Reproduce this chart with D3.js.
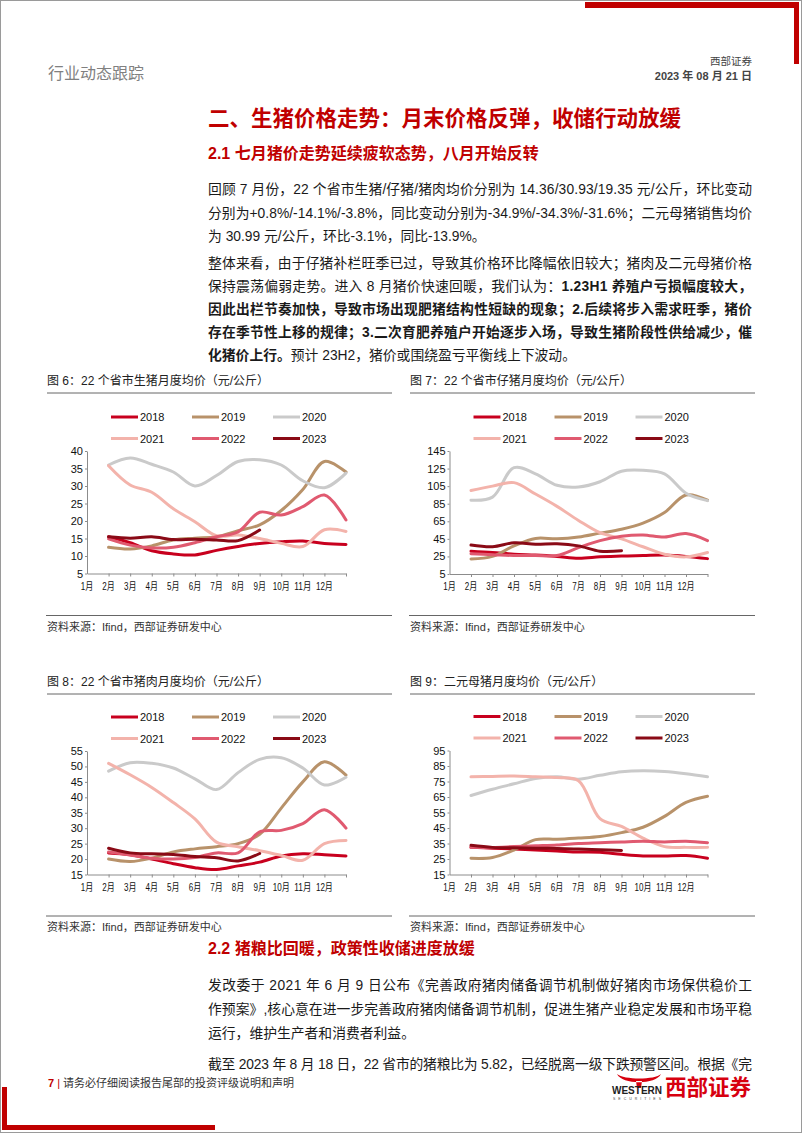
<!DOCTYPE html>
<html>
<head>
<meta charset="utf-8">
<script src="https://cdn.jsdelivr.net/npm/d3@7"></script>
<style>
  body { margin: 0; background: #fff; }
  svg { display: block; }
</style>
</head>
<body>
<script>
// --- data (monthly averages, 元/公斤) ---
const monthLabels = ['1月', '2月', '3月', '4月', '5月', '6月', '7月', '8月', '9月', '10月', '11月', '12月'];
const yearNames = ['2018', '2019', '2020', '2021', '2022', '2023'];

// 图6 生猪
const hog2018 = [15.5, 13.8, 11.5, 10.6, 10.3, 11.6, 12.7, 13.6, 14.1, 14.3, 13.6, 13.3];
const hog2019 = [12.5, 12.0, 12.9, 14.6, 15.1, 15.5, 17.2, 18.9, 23.0, 29.0, 37.0, 34.0];
const hog2020 = [36.0, 38.0, 36.2, 34.0, 30.0, 33.0, 37.0, 37.5, 36.0, 31.5, 29.5, 33.7];
const hog2021 = [35.8, 30.3, 28.2, 23.5, 19.8, 15.8, 16.0, 15.0, 13.6, 12.7, 17.5, 17.0];
const hog2022 = [14.9, 13.1, 12.3, 12.5, 13.8, 15.5, 16.9, 22.5, 21.7, 24.1, 27.4, 20.3];
const hog2023 = [15.5, 15.1, 15.5, 14.7, 14.8, 14.6, 14.4, 17.4];

// 图7 仔猪
const piglet2018 = [31, 29.5, 27.5, 26.5, 25, 23, 24.5, 25.5, 26, 26.5, 25, 22.5];
const piglet2019 = [22, 25, 37, 45.5, 45, 47, 51.5, 56, 63, 75, 95, 89];
const piglet2020 = [89, 92.5, 126, 119, 106, 104, 110, 122, 123, 119, 97, 88.5];
const piglet2021 = [100, 105, 109, 96, 82, 66, 52, 45, 36, 27.5, 24.5, 29.5];
const piglet2022 = [28, 27, 26, 26, 26, 35, 43, 48, 49.5, 47, 51, 43];
const piglet2023 = [38, 36, 40.5, 39, 39.5, 37, 31, 31.5];

// 图8 猪肉
const pork2018 = [22, 21.4, 20, 18.5, 17.2, 16.6, 17.8, 19, 21, 21.7, 21.4, 21];
const pork2019 = [20, 19.2, 20.3, 22.3, 23.3, 24, 25, 28, 36.5, 45, 51.5, 47.2];
const pork2020 = [48.5, 51.2, 51, 49.5, 46, 42.5, 48, 52.3, 52.8, 49.5, 44, 46.5];
const pork2021 = [51, 47.3, 43.2, 38.3, 33, 25.5, 24, 22.7, 21.2, 19.6, 25, 26];
const pork2022 = [22.3, 21.3, 20.3, 20, 20.5, 22, 22, 28.8, 29.3, 31.5, 36, 30];
const pork2023 = [23.5, 22, 21.7, 21.5, 20.8, 20.4, 19.4, 21.8];

// 图9 二元母猪
const sow2018 = [32.5, 32, 31.5, 30.8, 30.2, 29.5, 29.3, 28, 27, 27, 27.2, 25.5];
const sow2019 = [25.5, 26, 30.8, 37.5, 37.7, 38.5, 39.5, 42, 45.5, 52.5, 61.5, 65.5];
const sow2020 = [66, 70, 73.5, 77, 78, 76.5, 79, 81.3, 82, 81.5, 80, 78];
const sow2021 = [78, 78.3, 78.5, 78, 77.5, 75.5, 51, 46, 38.5, 33, 32.5, 32.5];
const sow2022 = [32.5, 32.5, 33, 33.5, 34, 35, 35.5, 36, 36.5, 36, 36.5, 35.5];
const sow2023 = [33.8, 32.5, 32.2, 32, 31.8, 31.4, 31, 30.5];

const yearColors = ['#c8001e', '#b8926a', '#cacaca', '#f3b3ab', '#e05a70', '#8a0a16'];
const RED = '#c00000';
const FONT = '"Liberation Sans", "Noto Sans CJK SC", sans-serif';

const svg = d3.select('body').append('svg')
  .attr('width', 802).attr('height', 1133)
  .style('font-family', FONT);

// --- page frame and decorations ---
svg.append('rect').attr('x', 0.5).attr('y', 0.5).attr('width', 801).attr('height', 1132)
  .attr('fill', 'none').attr('stroke', '#9a9a9a');
svg.append('rect').attr('x', 585).attr('y', 2).attr('width', 214).attr('height', 6).attr('fill', RED);
svg.append('rect').attr('x', 794).attr('y', 2).attr('width', 5).attr('height', 62).attr('fill', RED);
svg.append('rect').attr('x', 2).attr('y', 1087).attr('width', 5).attr('height', 43).attr('fill', RED);
svg.append('rect').attr('x', 2).attr('y', 1125).attr('width', 213).attr('height', 5).attr('fill', RED);

// header
svg.append('text').attr('x', 48).attr('y', 79).attr('font-size', 16).attr('fill', '#808080')
  .text('行业动态跟踪');
svg.append('text').attr('x', 752).attr('y', 65).attr('font-size', 10.5).attr('fill', '#444')
  .attr('text-anchor', 'end').text('西部证券');
svg.append('text').attr('x', 752).attr('y', 80).attr('font-size', 11).attr('font-weight', 'bold')
  .attr('fill', '#444').attr('text-anchor', 'end').text('2023 年 08 月 21 日');

// headings
svg.append('text').attr('x', 208).attr('y', 126).attr('font-size', 21.5).attr('font-weight', 'bold')
  .attr('fill', RED).text('二、生猪价格走势：月末价格反弹，收储行动放缓');
function subHeading(y, s) {
  svg.append('text').attr('x', 208).attr('y', y).attr('font-size', 16).attr('font-weight', 'bold')
    .attr('fill', RED).text(s);
}
subHeading(159, '2.1 七月猪价走势延续疲软态势，八月开始反转');
subHeading(954, '2.2 猪粮比回暖，政策性收储进度放缓');

// body text lines: parts are [text, bold]
function textLine(y, parts, justify) {
  const t = svg.append('text').attr('x', 208).attr('y', y).attr('font-size', 13.8).attr('fill', '#1a1a1a');
  parts.forEach(([s, b]) => t.append('tspan').attr('font-weight', b ? 'bold' : 'normal').text(s));
  if (justify) t.attr('textLength', 544).attr('lengthAdjust', 'spacing');
}
textLine(194, [['回顾 7 月份，22 个省市生猪/仔猪/猪肉均价分别为 14.36/30.93/19.35 元/公斤，环比变动', 0]], true);
textLine(218, [['分别为+0.8%/-14.1%/-3.8%，同比变动分别为-34.9%/-34.3%/-31.6%；二元母猪销售均价', 0]], true);
textLine(241, [['为 30.99 元/公斤，环比-3.1%，同比-13.9%。', 0]], false);
textLine(268, [['整体来看，由于仔猪补栏旺季已过，导致其价格环比降幅依旧较大；猪肉及二元母猪价格', 0]], true);
textLine(291, [['保持震荡偏弱走势。进入 8 月猪价快速回暖，我们认为：', 0], ['1.23H1 养殖户亏损幅度较大，', 1]], true);
textLine(314, [['因此出栏节奏加快，导致市场出现肥猪结构性短缺的现象；2.后续将步入需求旺季，猪价', 1]], true);
textLine(337, [['存在季节性上移的规律；3.二次育肥养殖户开始逐步入场，导致生猪阶段性供给减少，催', 1]], true);
textLine(360, [['化猪价上行。', 1], ['预计 23H2，猪价或围绕盈亏平衡线上下波动。', 0]], false);

textLine(990, [['发改委于 2021 年 6 月 9 日公布《完善政府猪肉储备调节机制做好猪肉市场保供稳价工', 0]], true);
textLine(1014, [['作预案》,核心意在进一步完善政府猪肉储备调节机制，促进生猪产业稳定发展和市场平稳', 0]], true);
textLine(1038, [['运行，维护生产者和消费者利益。', 0]], false);
textLine(1069, [['截至 2023 年 8 月 18 日，22 省市的猪粮比为 5.82，已经脱离一级下跌预警区间。根据《完', 0]], true);

// footer
const foot = svg.append('text').attr('x', 48).attr('y', 1087).attr('font-size', 11).attr('fill', '#333');
foot.append('tspan').attr('fill', RED).attr('font-weight', 'bold').text('7');
foot.append('tspan').attr('fill', RED).text(' | ');
foot.append('tspan').text('请务必仔细阅读报告尾部的投资评级说明和声明');

// logo
svg.append('path')
  .attr('d', 'M617,1074 C622,1085 656,1085 661,1074 C655,1080 624,1080 617,1074 Z M636,1081 L642,1081 L641,1088 L637,1088 Z')
  .attr('fill', '#d7000f');
svg.append('text').attr('x', 612).attr('y', 1094).attr('font-size', 10).attr('font-weight', 'bold')
  .attr('fill', '#222').attr('textLength', 50).attr('lengthAdjust', 'spacingAndGlyphs').text('WESTERN');
svg.append('text').attr('x', 613).attr('y', 1100).attr('font-size', 3.5)
  .attr('fill', '#444').attr('textLength', 48).text('SECURITIES');
svg.append('text').attr('x', 665).attr('y', 1095).attr('font-size', 21.5).attr('font-weight', 'bold')
  .attr('fill', '#d7000f').text('西部证券');

// --- charts ---
function drawChart(cfg) {
  const g = svg.append('g');
  const x = d3.scaleLinear().domain([0, 12]).range([cfg.x0, cfg.x1]);
  const y = d3.scaleLinear().domain(cfg.domain).range([cfg.yBot, cfg.yTop]);

  // caption + rule
  g.append('text').attr('x', cfg.capX).attr('y', cfg.capY).attr('font-size', 12).attr('fill', '#222')
    .text(cfg.caption);
  g.append('line').attr('x1', cfg.capX).attr('x2', cfg.capX + 345)
    .attr('y1', cfg.capY + 8).attr('y2', cfg.capY + 8).attr('stroke', '#666').attr('stroke-width', 1);
  g.append('line').attr('x1', cfg.capX - 1).attr('x2', cfg.capX + 345)
    .attr('y1', cfg.srcY).attr('y2', cfg.srcY).attr('stroke', '#666').attr('stroke-width', 1);
  g.append('text').attr('x', cfg.capX).attr('y', cfg.srcY + 15).attr('font-size', 11).attr('fill', '#333')
    .text('资料来源：Ifind，西部证券研发中心');

  // axes
  const yAxis = d3.axisLeft(y).tickValues(d3.range(cfg.domain[0], cfg.domain[1] + 0.1, cfg.step))
    .tickSize(2).tickSizeOuter(0).tickPadding(2);
  const ya = g.append('g').attr('transform', `translate(${cfg.x0},0)`).call(yAxis);
  const xAxis = d3.axisBottom(x).tickValues(d3.range(1, 13)).tickFormat('')
    .tickSize(3).tickSizeOuter(0);
  const xa = g.append('g').attr('transform', `translate(0,${cfg.yBot})`).call(xAxis);
  [ya, xa].forEach(a => {
    a.select('.domain').attr('stroke', '#8c8c8c');
    a.selectAll('.tick line').attr('stroke', '#8c8c8c');
    a.selectAll('text').attr('font-size', 11).attr('fill', '#111').style('font-family', FONT);
  });
  g.selectAll('.mlab').data(monthLabels).join('text')
    .attr('x', (d, i) => x(i)).attr('y', cfg.yBot + 16)
    .attr('text-anchor', 'middle').attr('font-size', 10).attr('fill', '#111')
    .attr('textLength', d => d.length > 2 ? 17 : 12.5).attr('lengthAdjust', 'spacingAndGlyphs')
    .text(d => d);

  // lines
  const line = d3.line().x((d, i) => x(i + 1)).y(d => y(d)).curve(d3.curveCatmullRom.alpha(0.5));
  cfg.series.forEach((s, k) => {
    g.append('path').datum(s).attr('d', line).attr('fill', 'none')
      .attr('stroke', yearColors[k]).attr('stroke-width', 3).attr('stroke-linecap', 'round');
  });

  // legend
  yearNames.forEach((name, k) => {
    const lx = cfg.x0 + 24 + (k % 3) * 81;
    const ly = cfg.yTop - (k < 3 ? 34 : 12.5);
    g.append('line').attr('x1', lx).attr('x2', lx + 27).attr('y1', ly).attr('y2', ly)
      .attr('stroke', yearColors[k]).attr('stroke-width', 3);
    g.append('text').attr('x', lx + 29).attr('y', ly + 4).attr('font-size', 11).attr('fill', '#111')
      .text(name);
  });
}

drawChart({
  caption: '图 6：22 个省市生猪月度均价（元/公斤）', capX: 47, capY: 385, srcY: 615.5,
  x0: 87, x1: 346, yTop: 451, yBot: 573.5, domain: [5, 40], step: 5,
  series: [hog2018, hog2019, hog2020, hog2021, hog2022, hog2023]
});
drawChart({
  caption: '图 7：22 个省市仔猪月度均价（元/公斤）', capX: 410, capY: 385, srcY: 615.5,
  x0: 449.5, x1: 707.5, yTop: 451, yBot: 574, domain: [5, 145], step: 20,
  series: [piglet2018, piglet2019, piglet2020, piglet2021, piglet2022, piglet2023]
});
drawChart({
  caption: '图 8：22 个省市猪肉月度均价（元/公斤）', capX: 47, capY: 686, srcY: 916,
  x0: 87, x1: 346, yTop: 751, yBot: 874.5, domain: [15, 55], step: 5,
  series: [pork2018, pork2019, pork2020, pork2021, pork2022, pork2023]
});
drawChart({
  caption: '图 9：二元母猪月度均价（元/公斤）', capX: 410, capY: 686, srcY: 916,
  x0: 449.5, x1: 707.5, yTop: 750.5, yBot: 874.5, domain: [15, 95], step: 10,
  series: [sow2018, sow2019, sow2020, sow2021, sow2022, sow2023]
});
</script>
</body>
</html>
